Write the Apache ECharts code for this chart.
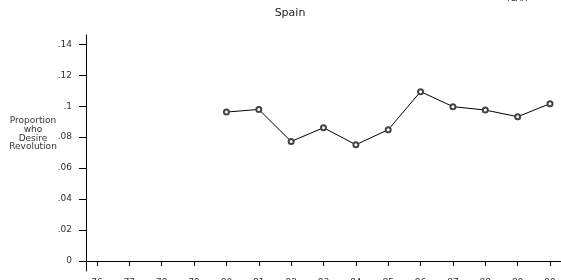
<!DOCTYPE html>
<html>
<head>
<meta charset="UTF-8">
<title>Spain</title>
<script src="https://cdn.jsdelivr.net/npm/echarts@6/dist/echarts.min.js"></script>
<style>
	html, body { margin: 0; padding: 0; background: #fff; }
	#main { width: 561px; height: 280px; }
</style>
</head>
<body>
<div id="main"></div>
<script type="text/javascript">
	// survey years (x ticks) and the years that have a value for Spain
	var tickYears = [76, 77, 78, 79, 80, 81, 82, 83, 84, 85, 86, 87, 88, 89, 90];
	var years = [80, 81, 82, 83, 84, 85, 86, 87, 88, 89, 90];
	var proportion = [0.0962, 0.0979, 0.0772, 0.0861, 0.0751, 0.0848, 0.1094, 0.0997, 0.0975, 0.0932, 0.1016];
	var yTicks = [0, 0.02, 0.04, 0.06, 0.08, 0.1, 0.12, 0.14];

	var font = 'DejaVu Sans';

	function fmt(v) {
		if (v === 0) return '0';
		return String(+v.toFixed(2)).replace(/^0\./, '.');
	}

	var pts = years.map(function (y, i) { return [y, proportion[i]]; });

	var myChart = echarts.init(document.getElementById('main'));
	var option = {
		animation: false,
		backgroundColor: '#fff',
		title: {
			text: 'Spain',
			left: 285,
			top: 3,
			textAlign: 'center',
			textStyle: { fontFamily: font, fontSize: 11, fontWeight: 'normal', color: '#222' }
		},
		graphic: [{
			type: 'text',
			x: 506,
			y: -5,
			style: { text: 'YEAR', font: '8px ' + font, fill: '#333', textVerticalAlign: 'top' }
		}, {
			// y axis title, placed as in the original (above the axis middle)
			type: 'text',
			x: 33,
			y: 134,
			style: {
				text: 'Proportion\nwho\nDesire\nRevolution',
				font: '9px ' + font,
				fill: '#333',
				align: 'center',
				verticalAlign: 'middle',
				lineHeight: 8.6
			}
		}],
		grid: { left: 86, right: 0, top: 35, bottom: 9, outerBoundsMode: 'none', containLabel: false },
		xAxis: {
			type: 'value',
			min: 75.66,
			max: 90.34,
			splitLine: { show: false },
			axisLine: { lineStyle: { color: '#000', width: 1 } },
			axisTick: { length: 5, lineStyle: { color: '#000' }, customValues: tickYears },
			axisLabel: {
				customValues: tickYears,
				margin: 7,
				fontFamily: font,
				fontSize: 9,
				color: '#333'
			}
		},
		yAxis: {
			type: 'value',
			min: -0.0065,
			max: 0.146,
			splitLine: { show: false },
			axisLine: { show: true, lineStyle: { color: '#000', width: 1 } },
			axisTick: { show: true, length: 7, lineStyle: { color: '#000' }, customValues: yTicks },
			axisLabel: {
				customValues: yTicks,
				margin: 14,
				fontFamily: font,
				fontSize: 9,
				color: '#333',
				formatter: fmt
			}
		},
		series: [{
			type: 'line',
			data: pts,
			symbol: 'emptyCircle',
			symbolSize: 5,
			lineStyle: { color: '#000', width: 1 },
			itemStyle: { color: '#444', borderColor: '#444', borderWidth: 0.8 }
		}]
	};
	myChart.setOption(option);
</script>
</body>
</html>
